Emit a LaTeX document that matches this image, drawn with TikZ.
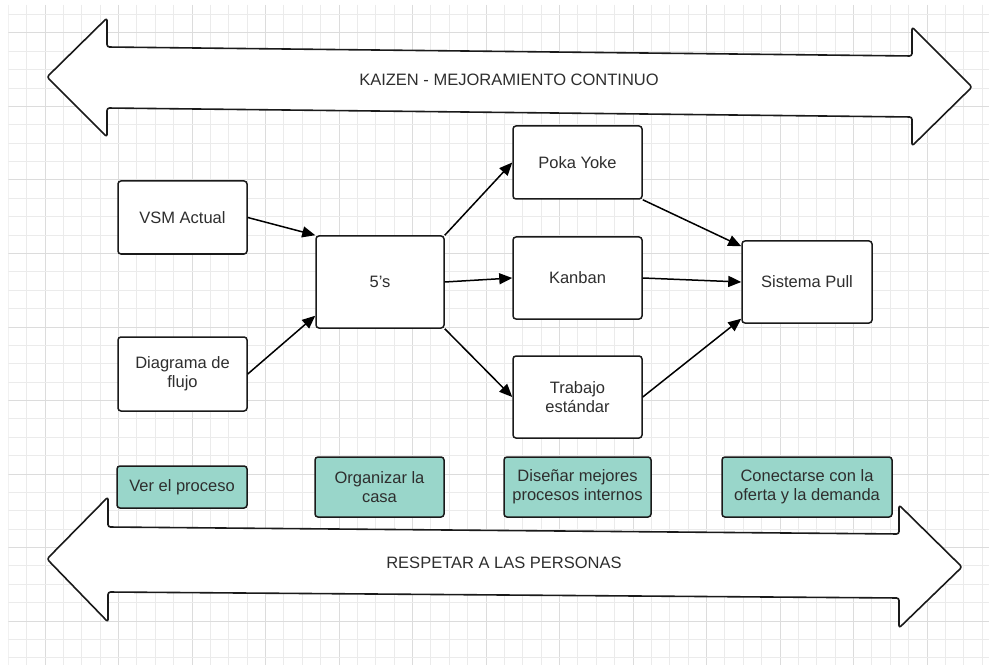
\documentclass[tikz,border=0pt]{standalone}
\usepackage{fontspec}
\setmainfont{Liberation Sans}
\usetikzlibrary{arrows.meta}
\definecolor{gridminor}{HTML}{EBEBEB}
\definecolor{gridmajor}{HTML}{DCDCDC}
\definecolor{tealfill}{HTML}{99D6CA}
\definecolor{inkgray}{HTML}{2E2E2E}
\definecolor{edge}{HTML}{1A1A1A}
\begin{document}
\begin{tikzpicture}[x=1pt,y=-1pt,
  txt/.style={text=inkgray, font=\fontsize{16.5}{19}\selectfont},
  box/.style={txt, draw=edge, line width=1.5pt, rounded corners=3pt, fill=white,
    inner sep=0pt, align=center},
  greenbox/.style={box, fill=tealfill},
  link/.style={draw=black, line width=1.5pt, -{Triangle[length=13pt,width=11pt]}},
  bigarrow/.style={draw=edge, line width=1.6pt, fill=white, rounded corners=2.5pt, line join=round}]

% page and grid paper
\fill[white] (0,0) rectangle (989,666);
\useasboundingbox (0,0) rectangle (989,666);
\begin{scope}
  \clip (8.25,5) rectangle (989,665);
  \foreach \k in {0,...,53} {
    \pgfmathsetmacro{\gx}{8.25+18.375*\k}
    \pgfmathtruncatemacro{\m}{mod(\k,4)}
    \ifnum\m=2 \draw[gridmajor, line width=1pt] (\gx,5) -- (\gx,665);
    \else \draw[gridminor, line width=1pt] (\gx,5) -- (\gx,665); \fi
  }
  \foreach \k in {0,...,35} {
    \pgfmathsetmacro{\gy}{14.625+18.375*\k}
    \pgfmathtruncatemacro{\m}{mod(\k,4)}
    \ifnum\m=1 \draw[gridmajor, line width=1pt] (8.25,\gy) -- (989,\gy);
    \else \draw[gridminor, line width=1pt] (8.25,\gy) -- (989,\gy); \fi
  }
\end{scope}

% double-headed banner arrows
\draw[bigarrow] (47,77) -- (107,18) -- (107,47) -- (912,56) -- (912,27) -- (972,87)
  -- (912,146) -- (912,117) -- (107,108) -- (107,137) -- cycle;
\node[txt] (kaizen) at (509,80) {KAIZEN - MEJORAMIENTO CONTINUO};

\draw[bigarrow] (47,559) -- (108,497) -- (108,527) -- (899,534) -- (899,505) -- (962,567)
  -- (899,628) -- (899,598) -- (108,592) -- (108,622) -- cycle;
\node[txt] (respeto) at (504,563) {RESPETAR A LAS PERSONAS};

% process boxes
\node[box, minimum width=129pt, minimum height=73pt] (vsm) at (182.5,217.5) {VSM Actual};
\node[box, minimum width=129pt, minimum height=74pt] (flujo) at (182.5,374) {Diagrama de\\flujo};
\node[box, minimum width=128pt, minimum height=92pt] (cinco) at (380,282) {5's};
\node[box, minimum width=129pt, minimum height=73pt] (poka) at (577.5,162.5) {Poka Yoke};
\node[box, minimum width=129pt, minimum height=82pt] (kanban) at (577.5,278) {Kanban};
\node[box, minimum width=129pt, minimum height=82pt] (trabajo) at (577.5,397) {Trabajo\\estándar};
\node[box, minimum width=130pt, minimum height=82pt] (pull) at (807,282) {Sistema Pull};

% stage captions
\node[greenbox, minimum width=130pt, minimum height=42pt] (ver) at (182,487) {Ver el proceso};
\node[greenbox, minimum width=129pt, minimum height=60pt] (organizar) at (379.5,487) {Organizar la\\casa};
\node[greenbox, minimum width=147pt, minimum height=60pt] (disenar) at (577.5,487) {Diseñar mejores\\procesos internos};
\node[greenbox, minimum width=170pt, minimum height=60pt] (conectar) at (807,487) {Conectarse con la\\oferta y la demanda};

% flow connectors
\draw[link] (vsm.east) -- (cinco.north west);
\draw[link] (flujo.east) -- ([yshift=13pt]cinco.south west);
\draw[link] (cinco.north east) -- (poka.west);
\draw[link] (cinco.east) -- (kanban.west);
\draw[link] (cinco.south east) -- (trabajo.west);
\draw[link] (poka.south east) -- ([yshift=-6pt]pull.north west);
\draw[link] (kanban.east) -- (pull.west);
\draw[link] (trabajo.east) -- ([yshift=5pt]pull.south west);
\end{tikzpicture}
\end{document}
